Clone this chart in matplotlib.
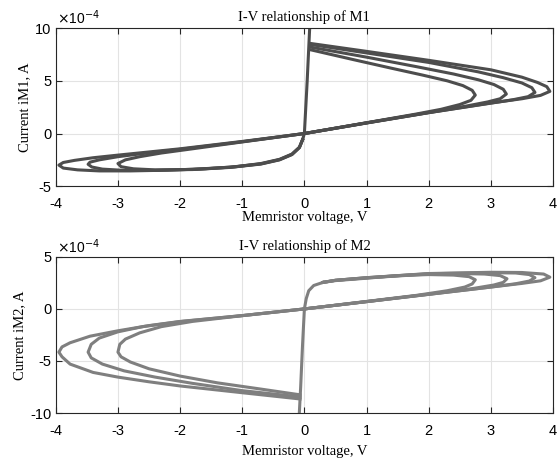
import matplotlib
matplotlib.use("Agg")
import matplotlib.pyplot as plt

plt.rcParams['axes.unicode_minus'] = False

# ---- M1 trajectory (current in units of 1e-4 A) ----
m1_vert_x = [-0.03, 0.0, 0.045, 0.085, 0.1]
m1_vert_y = [-0.6, 0.0, 5.0, 10.0, 11.5]

m1_right_x = [
    [0, 1.0, 2.0, 3.0, 3.5, 3.8, 3.95, 3.9, 3.75, 3.5, 3.0, 2.0, 1.0, 0.1],
    [0, 1.0, 2.0, 3.0, 3.35, 3.6, 3.71, 3.66, 3.5, 3.2, 2.8, 2.0, 1.0, 0.1],
    [0, 1.0, 2.0, 2.6, 2.95, 3.15, 3.25, 3.2, 3.05, 2.8, 2.4, 1.8, 1.0, 0.1],
    [0, 1.0, 1.8, 2.2, 2.5, 2.68, 2.75, 2.7, 2.55, 2.3, 1.9, 1.4, 0.8, 0.1],
]
m1_right_y = [
    [0, 1.0, 1.98, 2.9, 3.3, 3.62, 4.0, 4.45, 4.85, 5.35, 6.05, 6.95, 7.8, 8.55],
    [0, 1.0, 1.98, 2.88, 3.2, 3.5, 3.9, 4.35, 4.8, 5.3, 5.85, 6.75, 7.65, 8.45],
    [0, 1.02, 2.0, 2.6, 3.0, 3.3, 3.75, 4.2, 4.65, 5.1, 5.65, 6.35, 7.25, 8.2],
    [0, 1.02, 1.85, 2.3, 2.75, 3.15, 3.65, 4.1, 4.55, 5.0, 5.55, 6.2, 7.0, 7.95],
]

m1_left_x = [
    [0, -0.5, -1.0, -1.5, -2.0, -2.5, -3.0, -3.4, -3.7, -3.88, -3.95, -3.88, -3.65,
     -3.3, -2.8, -2.2, -1.6, -1.1, -0.7, -0.4, -0.2, -0.08, -0.03],
    [0, -1.0, -2.0, -2.6, -3.0, -3.3, -3.45, -3.48, -3.42, -3.25, -2.9, -2.4, -1.8,
     -1.2, -0.7, -0.4, -0.2, -0.08, -0.03],
    [0, -1.0, -1.8, -2.3, -2.65, -2.88, -3.0, -2.95, -2.75, -2.4, -1.8, -1.2, -0.7,
     -0.4, -0.2, -0.08, -0.03],
]
m1_left_y = [
    [0, -0.38, -0.75, -1.1, -1.45, -1.75, -2.05, -2.3, -2.55, -2.75, -3.0, -3.28, -3.45,
     -3.55, -3.55, -3.48, -3.35, -3.15, -2.85, -2.45, -1.95, -1.3, -0.6],
    [0, -0.78, -1.5, -1.9, -2.2, -2.5, -2.72, -2.92, -3.18, -3.38, -3.5, -3.5, -3.4,
     -3.2, -2.88, -2.48, -1.98, -1.32, -0.6],
    [0, -0.8, -1.45, -1.85, -2.2, -2.5, -2.85, -3.15, -3.35, -3.45, -3.42, -3.22, -2.9,
     -2.5, -2.0, -1.34, -0.6],
]

# ---- M2 trajectory ----
m2_vert_x = [-0.09, -0.06, -0.03, 0.0, 0.03, 0.07, 0.15, 0.3]
m2_vert_y = [-11.0, -7.5, -3.5, 0.0, 1.0, 1.75, 2.25, 2.55]

m2_right_x = [
    [0, 1.0, 2.0, 3.0, 3.5, 3.8, 3.95, 3.85, 3.5, 3.0, 2.0, 1.0, 0.5, 0.3],
    [0, 1.0, 2.0, 3.0, 3.4, 3.62, 3.71, 3.62, 3.4, 3.0, 2.0, 1.0, 0.5, 0.3],
    [0, 1.0, 2.0, 2.7, 3.05, 3.2, 3.26, 3.15, 2.9, 2.5, 2.0, 1.0, 0.5, 0.3],
    [0, 1.0, 1.8, 2.3, 2.58, 2.7, 2.75, 2.65, 2.4, 2.0, 1.5, 1.0, 0.5, 0.3],
]
m2_right_y = [
    [0, 0.7, 1.4, 2.1, 2.45, 2.7, 3.05, 3.35, 3.5, 3.52, 3.4, 3.0, 2.75, 2.55],
    [0, 0.7, 1.4, 2.1, 2.42, 2.68, 3.0, 3.3, 3.45, 3.48, 3.38, 3.0, 2.75, 2.55],
    [0, 0.7, 1.42, 1.95, 2.3, 2.55, 2.9, 3.2, 3.35, 3.4, 3.35, 2.98, 2.75, 2.55],
    [0, 0.72, 1.3, 1.75, 2.1, 2.4, 2.8, 3.1, 3.25, 3.3, 3.2, 2.95, 2.72, 2.55],
]

m2_left_x = [
    [0, -1.0, -2.0, -2.5, -3.0, -3.45, -3.77, -3.9, -3.95, -3.9, -3.77, -3.4, -3.0,
     -2.5, -2.0, -1.0, -0.07],
    [0, -1.0, -2.0, -2.6, -3.0, -3.3, -3.43, -3.48, -3.43, -3.25, -2.9, -2.4, -1.8,
     -1.0, -0.07],
    [0, -1.0, -1.8, -2.3, -2.65, -2.88, -2.97, -3.0, -2.95, -2.8, -2.5, -2.0, -1.4,
     -0.7, -0.07],
]
m2_left_y = [
    [0, -0.64, -1.2, -1.6, -2.1, -2.62, -3.25, -3.65, -4.15, -4.6, -5.3, -6.1, -6.55,
     -7.0, -7.4, -8.05, -8.65],
    [0, -0.64, -1.22, -1.7, -2.2, -2.8, -3.4, -4.15, -4.7, -5.3, -5.95, -6.55, -7.15,
     -7.85, -8.45],
    [0, -0.65, -1.2, -1.7, -2.3, -2.9, -3.4, -4.15, -4.6, -5.1, -5.75, -6.45, -7.1,
     -7.7, -8.25],
]

x_ticks = [-4, -3, -2, -1, 0, 1, 2, 3, 4]
m1_yticks = [-5, 0, 5, 10]
m2_yticks = [-10, -5, 0, 5]

serif = 'Liberation Serif'
sans = 'Liberation Sans'

fig = plt.figure(figsize=(5.58, 4.62), dpi=100)
ax1 = fig.add_axes([0.100, 0.597, 0.891, 0.342])
ax2 = fig.add_axes([0.100, 0.106, 0.891, 0.338])


def draw_panel(ax, color, vx, vy, rx, ry, lx, ly, yticks, title, ylabel, xpad):
    for xs, ys in zip(lx, ly):
        ax.plot(xs, ys, color=color, lw=2.2, solid_joinstyle='round')
    for xs, ys in zip(rx, ry):
        ax.plot(xs, ys, color=color, lw=2.2, solid_joinstyle='round')
    ax.plot(vx, vy, color=color, lw=2.2)

    ax.set_xlim(-4, 4)
    ax.set_ylim(yticks[0], yticks[-1])
    ax.set_xticks(x_ticks)
    ax.set_yticks(yticks)
    ax.set_xticklabels([str(t) for t in x_ticks], fontfamily=sans, fontsize=10.5)
    ax.set_yticklabels([str(t) for t in yticks], fontfamily=sans, fontsize=10.5)
    ax.tick_params(direction='in', length=4, width=0.8, top=True, right=True,
                   color='#262626')
    ax.tick_params(axis='x', pad=8)
    ax.tick_params(axis='y', pad=3)
    ax.grid(True, color='#e3e3e3', lw=0.8)
    ax.set_axisbelow(True)
    for s in ax.spines.values():
        s.set_color('#262626')
        s.set_linewidth(0.8)

    ax.set_title(title, fontfamily=serif, fontsize=10.5, pad=5)
    ax.set_xlabel('Memristor voltage, V', fontfamily=serif, fontsize=10.5, labelpad=xpad)
    ax.set_ylabel(ylabel, fontfamily=serif, fontsize=10.5, labelpad=3)
    ax.annotate(r'$\times$10$^{-4}$', xy=(0, 1), xycoords='axes fraction',
                xytext=(1, 3), textcoords='offset points',
                fontfamily=sans, fontsize=10, ha='left', va='baseline')


draw_panel(ax1, '#4d4d4d', m1_vert_x, m1_vert_y, m1_right_x, m1_right_y,
           m1_left_x, m1_left_y, m1_yticks, 'I-V relationship of M1', 'Current iM1, A', 0)
draw_panel(ax2, '#7f7f7f', m2_vert_x, m2_vert_y, m2_right_x, m2_right_y,
           m2_left_x, m2_left_y, m2_yticks, 'I-V relationship of M2', 'Current iM2, A', 5)

fig.savefig('out.png', dpi=100)
